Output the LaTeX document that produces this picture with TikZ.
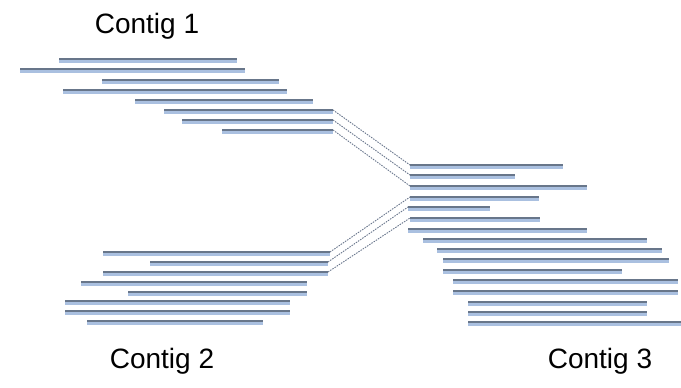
\documentclass[tikz,border=0pt]{standalone}
\usepackage{fontspec}
\setmainfont{Liberation Sans}
\definecolor{barcoreclr}{RGB}{104,118,138}
\definecolor{barglowclr}{RGB}{170,192,224}
\definecolor{joinclr}{RGB}{105,118,140}
\begin{document}
\begin{tikzpicture}[x=1pt,y=-1pt,
  barcore/.style={line width=2.6pt, draw=barcoreclr},
  barglow/.style={line width=4.8pt, draw=barglowclr},
  joinline/.style={line width=0.9pt, draw=joinclr, dash pattern=on 1.5pt off 1.1pt},
  label/.style={font=\fontsize{28}{30}\selectfont, anchor=base, inner sep=0pt}]
\useasboundingbox (0,0) rectangle (681,388);

% draws a read as a bar between two named end points
\newcommand\readbar[3]{%
  \coordinate (#1l) at (#2);
  \coordinate (#1r) at (#3);
  \draw[barglow] ([yshift=-1.2pt]#1l) -- ([yshift=-1.2pt]#1r);
  \draw[barcore] (#1l) -- (#1r);}

% Contig 1
\foreach \n/\a/\b/\y in {1/59/237/59, 2/20/245/69, 3/102/279/80, 4/63/287/90,
    5/135/313/100, 6/164/333/110, 7/182/333/120, 8/222/333/130}
  {\readbar{a\n}{\a,\y}{\b,\y}}

% Contig 2
\foreach \n/\a/\b/\y in {1/103/330/252, 2/150/328/262, 3/103/328/272, 4/81/307/282,
    5/128/307/292, 6/65/290/301, 7/65/290/311, 8/87/263/321}
  {\readbar{b\n}{\a,\y}{\b,\y}}

% Contig 3
\foreach \n/\a/\b/\y in {1/410/563/165, 2/410/515/175, 3/410/587/186, 4/410/539/197,
    5/408/490/207, 6/410/540/218, 7/408/587/229, 8/423/647/239, 9/437/662/249,
    10/443/669/259, 11/443/622/270, 12/453/678/280, 13/453/678/291,
    14/468/647/302, 15/468/647/312, 16/468/681/322}
  {\readbar{c\n}{\a,\y}{\b,\y}}

% joins between the contigs
\draw[joinline] (a6r) -- (c1l);
\draw[joinline] (a7r) -- (c2l);
\draw[joinline] (a8r) -- (c3l);
\draw[joinline] (b1r) -- (c4l);
\draw[joinline] (b2r) -- (c5l);
\draw[joinline] (b3r) -- (c6l);

\node[label] (t1) at (147,33) {Contig 1};
\node[label] (t2) at (162,368) {Contig 2};
\node[label] (t3) at (600,368) {Contig 3};
\end{tikzpicture}
\end{document}
